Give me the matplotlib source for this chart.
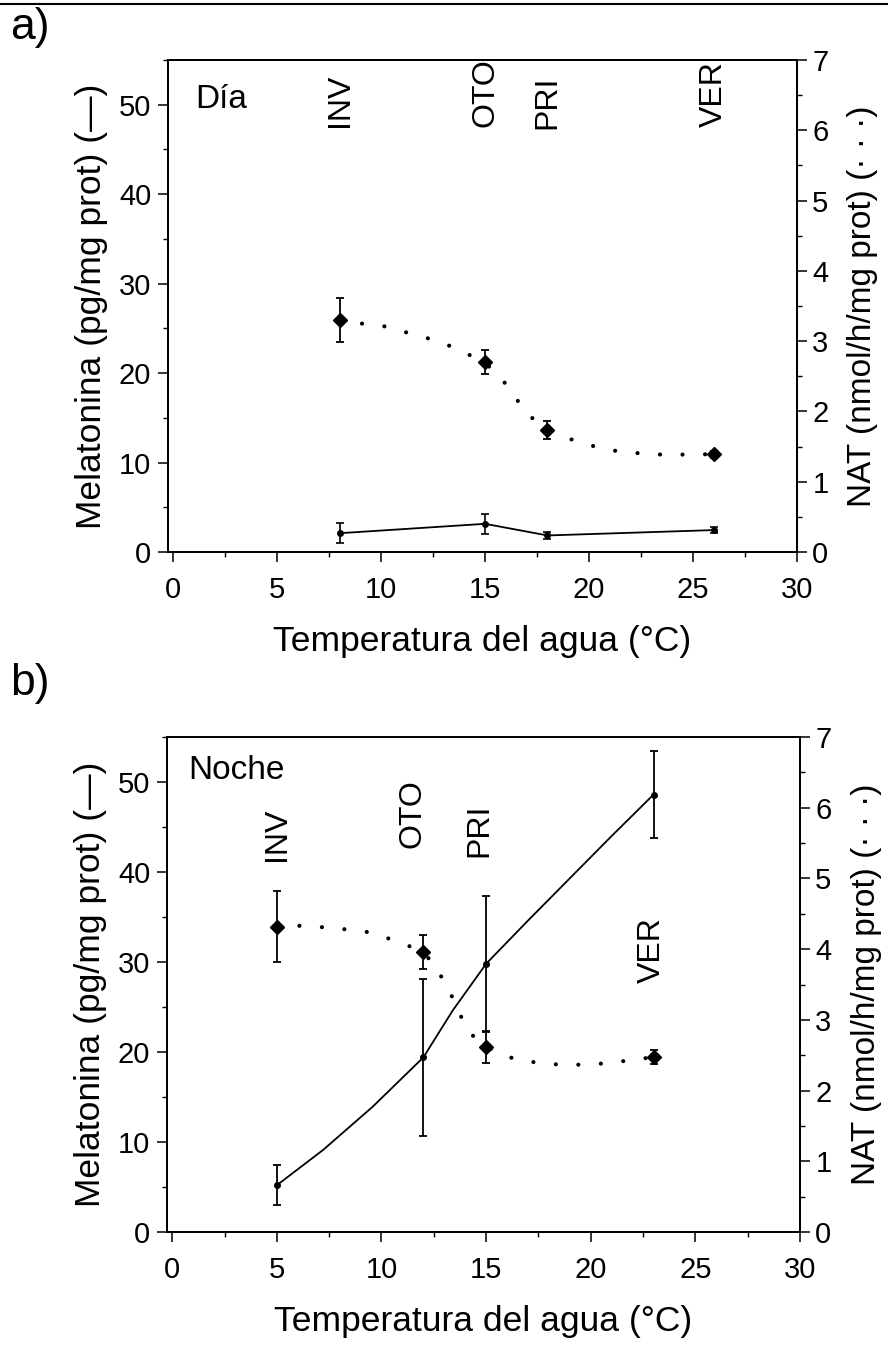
import matplotlib
matplotlib.use("Agg")
import matplotlib.pyplot as plt
from matplotlib.ticker import MultipleLocator
from matplotlib.lines import Line2D

plt.rcParams['font.family'] = ['Liberation Sans', 'DejaVu Sans']

# ---- panel a (Dia) ----
temp_a = [8, 15, 18, 26]
mel_a = [2.1, 3.15, 1.85, 2.45]
mel_a_err = [1.1, 1.1, 0.4, 0.3]
nat_a = [3.30, 2.70, 1.74, 1.39]
nat_a_err = [0.31, 0.17, 0.13, 0.05]
fit_a_x = [8.0, 9.07, 10.16, 11.26, 12.38, 13.42, 14.41, 15.29, 16.09, 16.71, 17.41,
           18.44, 19.44, 20.54, 21.63, 22.7, 23.8, 24.99, 26.0]
fit_a_y = [3.28, 3.25, 3.21, 3.12, 3.03, 2.92, 2.78, 2.62, 2.36, 2.09, 1.86,
           1.68, 1.57, 1.48, 1.42, 1.40, 1.38, 1.39, 1.39]

# ---- panel b (Noche) ----
temp_b = [5, 12, 15, 23]
mel_b = [5.2, 19.4, 29.8, 48.6]
mel_b_err = [2.2, 8.7, 7.5, 4.8]
nat_b = [4.32, 3.96, 2.61, 2.47]
nat_b_err = [0.5, 0.24, 0.22, 0.1]
mel_fit_b_x = [5.0, 7.2, 9.57, 12.0, 13.4, 15.0, 17.0, 19.0, 21.0, 23.0]
mel_fit_b_y = [5.2, 9.1, 13.9, 19.4, 24.6, 29.8, 34.6, 39.3, 44.0, 48.6]
fit_b_x = [5.0, 6.11, 7.20, 8.29, 9.38, 10.45, 11.53, 12.40, 12.96, 13.49, 13.93,
           14.58, 15.50, 16.53, 17.62, 18.75, 19.85, 20.98, 22.07, 23.0]
fit_b_y = [4.33, 4.33, 4.31, 4.28, 4.24, 4.14, 4.02, 3.84, 3.56, 3.26, 2.96,
           2.69, 2.54, 2.43, 2.39, 2.36, 2.37, 2.39, 2.44, 2.47]

seasons = ['INV', 'OTO', 'PRI', 'VER']
season_x_a = [8, 15, 18, 26]
season_y_a = [47.5, 47.5, 47.3, 47.5]
season_x_b = [5, 11.5, 14.7, 22.9]
season_y_b = [41.2, 42.7, 41.7, 27.7]

W, H = 888, 1345
fig = plt.figure(figsize=(W / 100, H / 100), dpi=100)

TICK = 21
LAB = 25.5
dot_style = (0, (0.01, 5.4))


def setup(ax, ax2):
    ax.set_xlim(-0.25, 30)
    ax.set_ylim(0, 55)
    ax2.set_ylim(0, 7)
    ax.xaxis.set_major_locator(MultipleLocator(5))
    ax.xaxis.set_minor_locator(MultipleLocator(2.5))
    ax.yaxis.set_major_locator(MultipleLocator(10))
    ax.yaxis.set_minor_locator(MultipleLocator(5))
    ax2.yaxis.set_major_locator(MultipleLocator(1))
    ax2.yaxis.set_minor_locator(MultipleLocator(0.5))
    for a in (ax, ax2):
        for s in a.spines.values():
            s.set_linewidth(1.4)
    ax.tick_params(which='major', direction='out', length=7, width=1.1,
                   labelsize=TICK)
    ax.tick_params(which='minor', direction='out', length=3.5, width=1.0)
    ax.tick_params(axis='x', which='major', pad=10)
    ax.tick_params(axis='y', which='major', pad=5)
    ax2.tick_params(which='major', direction='out', length=7, width=1.1,
                    labelsize=TICK, pad=4)
    ax2.tick_params(which='minor', direction='out', length=3.5, width=1.0)
    ax.set_xlabel('Temperatura del agua (°C)', fontsize=LAB)
    ax.set_ylabel('Melatonina (pg/mg prot) (—)', fontsize=LAB)
    ax2.set_ylabel('NAT (nmol/h/mg prot) (· · ·)', fontsize=24)
    ax.xaxis.set_label_coords(0.5, -0.148)
    ax.yaxis.set_label_coords(-0.095, 0.5)
    ax2.yaxis.set_label_coords(1.08, 0.5)


# panel a
ax_a = fig.add_axes([168 / W, 1 - 552 / H, 629 / W, 492 / H])
ax_a2 = ax_a.twinx()
setup(ax_a, ax_a2)
ax_a.errorbar(temp_a, mel_a, yerr=mel_a_err, color='black', lw=1.3,
              elinewidth=1.2, capsize=3, capthick=1.2, marker='o', ms=4)
ax_a2.plot(fit_a_x, fit_a_y, color='black', lw=3, linestyle=dot_style,
           dash_capstyle='round')
ax_a2.errorbar(temp_a, nat_a, yerr=nat_a_err, fmt='D', color='black',
               ms=7.5, elinewidth=1.3, capsize=3, capthick=1.3)
for lab, x, y in zip(seasons, season_x_a, season_y_a):
    ax_a.text(x, y, lab, rotation=90, ha='center', va='bottom', fontsize=23)
ax_a.text(0.043, 0.92, 'Día', transform=ax_a.transAxes, fontsize=24,
          ha='left', va='center')

# panel b
ax_b = fig.add_axes([167 / W, 1 - 1232 / H, 633 / W, 495 / H])
ax_b2 = ax_b.twinx()
setup(ax_b, ax_b2)
ax_b.plot(mel_fit_b_x, mel_fit_b_y, color='black', lw=1.3)
ax_b.errorbar(temp_b, mel_b, yerr=mel_b_err, fmt='o', color='black', ms=4,
              elinewidth=1.3, capsize=3, capthick=1.3)
ax_b2.plot(fit_b_x, fit_b_y, color='black', lw=3, linestyle=dot_style,
           dash_capstyle='round')
ax_b2.errorbar(temp_b, nat_b, yerr=nat_b_err, fmt='D', color='black',
               ms=7.5, elinewidth=1.3, capsize=3, capthick=1.3)
for lab, x, y in zip(seasons, season_x_b, season_y_b):
    ax_b.text(x, y, lab, rotation=90, ha='center', va='bottom', fontsize=23)
ax_b.text(0.033, 0.933, 'Noche', transform=ax_b.transAxes, fontsize=24,
          ha='left', va='center')

# panel letters and scan border line
fig.text(10 / W, 1 - 27 / H, 'a)', fontsize=32, ha='left', va='center')
fig.text(10 / W, 1 - 683 / H, 'b)', fontsize=32, ha='left', va='center')
fig.add_artist(Line2D([0, 1], [1 - 4 / H, 1 - 4 / H], color='black', lw=1.5,
                      transform=fig.transFigure))

fig.savefig('out.png', dpi=100)
